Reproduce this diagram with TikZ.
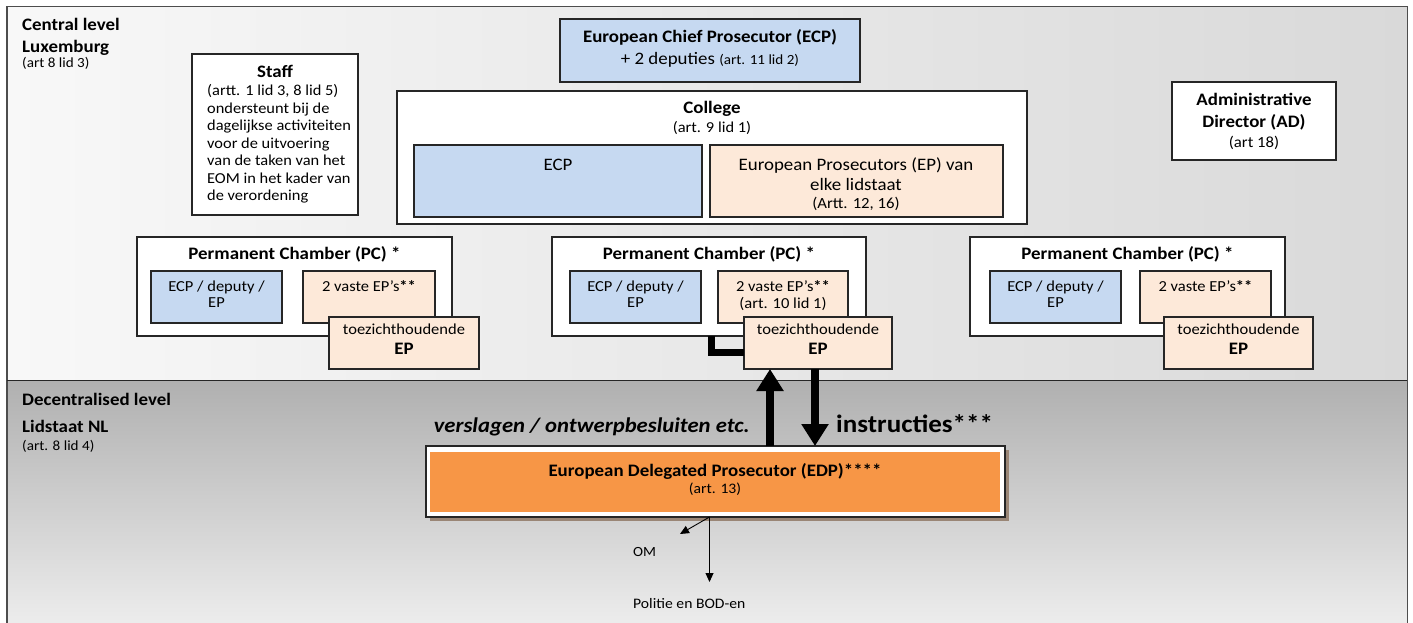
\documentclass[tikz,border=0pt]{standalone}
\usepackage{fontspec}
\setmainfont{Carlito}[FakeStretch=1.08]
\usetikzlibrary{arrows.meta}
\definecolor{ecpblue}{HTML}{C6D9F1}
\definecolor{peach}{HTML}{FDE9D9}
\definecolor{edporange}{HTML}{F79646}
\definecolor{framegray}{HTML}{4D4D4D}
\definecolor{cenL}{HTML}{F8F8F8}
\definecolor{cenR}{HTML}{D9D9D9}
\definecolor{decT}{HTML}{B0B0B0}
\definecolor{decB}{HTML}{EEEEEE}
\definecolor{edpshadow}{HTML}{9A8676}
\newcommand{\fz}[1]{\fontsize{#1}{#1}\selectfont}
\newcommand{\mybox}[6]{\node[#2, minimum width={#5-#3}, minimum height={#6-#4}] (#1) at (#3,#4) {};}
\tikzset{
 box/.style={draw=black!85, line width=1.1pt, fill=white, anchor=north west, inner sep=0pt, outer sep=0pt},
 bbox/.style={box, fill=ecpblue},
 pbox/.style={box, fill=peach},
 lbl/.style={inner sep=0pt, anchor=base},
 lbll/.style={inner sep=0pt, anchor=base west},
 ttl/.style={font=\fz{17.5}\bfseries},
 big/.style={font=\fz{17.5}},
 bod/.style={font=\fz{15.2}},
 pcf/.style={font=\fz{15.3}},
 sml/.style={font=\fz{14}},
 bigarrow/.style={line width=8pt, -{Triangle[width=26pt,length=22pt]}},
 elbow/.style={line width=7pt, line join=miter},
 thinarrow/.style={line width=0.9pt, -{Triangle[width=8pt,length=9pt]}},
}
\begin{document}
\begin{tikzpicture}[x=1pt,y=-1pt]
\useasboundingbox (0,0) rectangle (1413,623);
\fill[white] (0,0) rectangle (1413,623);
\shade[left color=cenL, right color=cenR] (7,7) rectangle (1407,380);
\shade[top color=decT, bottom color=decB] (7,380) rectangle (1407,630);
\draw[framegray, line width=1.5pt] (7,630) -- (7,6.5) -- (1407.5,6.5) -- (1407.5,630);
\draw[black!85, line width=1.5pt] (7,380.5) -- (1407,380.5);

% central level labels
\node[lbll, ttl] (cl1) at (22,31) {Central level};
\node[lbll, ttl] (cl2) at (22,53) {Luxemburg};
\node[lbll, sml] (cl3) at (22,68) {(art 8 lid 3)};

% Staff
\mybox{staff}{box}{192}{54}{358}{215}
\node[lbl, ttl] (stT) at (275,78) {Staff};
\foreach \t [count=\i] in {{(artt. 1 lid 3, 8 lid 5)},{ondersteunt bij de},{dagelijkse activiteiten},{voor de uitvoering},{van de taken van het},{EOM in het kader van},{de verordening}}
  \node[lbll, bod] (s\i) at (207,{96+17.4*(\i-1)}) {\t};

% ECP
\mybox{ecp}{bbox}{560}{19}{860}{82}
\node[lbl, ttl] (ecp1) at (710,43) {European Chief Prosecutor (ECP)};
\node[lbl, big] (ecp2) at (710,65) {+ 2 deputies {\fz{14}(art. 11 lid 2)}};

% College
\mybox{college}{box}{397}{91}{1027}{224}
\node[lbl, ttl] (colT) at (712,114) {College};
\node[lbl, bod] (colS) at (712,132) {(art. 9 lid 1)};
\mybox{ecpi}{bbox}{414}{145}{702}{217}
\node[lbl, big] (ecpit) at (558,170) {ECP};
\mybox{epi}{pbox}{710}{145}{1003}{217}
\node[lbl, big] (ep1) at (856,170) {European Prosecutors (EP) van};
\node[lbl, big] (ep2) at (856,190) {elke lidstaat};
\node[lbl, font=\fz{15.5}] (ep3) at (856,208) {(Artt. 12, 16)};

% Administrative Director
\mybox{ad}{box}{1172}{82}{1336}{160}
\node[lbl, ttl] (ad1) at (1254,106) {Administrative};
\node[lbl, ttl] (ad2) at (1254,128) {Director (AD)};
\node[lbl, font=\fz{15.5}] (ad3) at (1254,147) {(art 18)};

% Permanent Chamber 1
\mybox{pc1}{box}{137}{237}{452}{336}
\node[lbl, ttl] (pc1t) at (294.5,259) {Permanent Chamber (PC) *};
\mybox{pc1b}{bbox}{151}{271}{282}{323}
\node[lbl, pcf] (pc1b1) at (216.5,291) {ECP / deputy /};
\node[lbl, pcf] (pc1b2) at (216.5,307) {EP};
\mybox{pc1p}{pbox}{303}{271}{435}{323}
\node[lbl, pcf] (pc1p1) at (369,291) {2 vaste EP’s\textbf{**}};
\mybox{tz1}{pbox}{329}{317}{479}{369}
\node[lbl, pcf] (tz1a) at (404,334) {toezichthoudende};
\node[lbl, ttl] (tz1b) at (404,354) {EP};

% Permanent Chamber 2
\mybox{pc2}{box}{552}{237}{866}{336}
\node[lbl, ttl] (pc2t) at (709,259) {Permanent Chamber (PC) *};
\mybox{pc2b}{bbox}{570}{271}{701}{323}
\node[lbl, pcf] (pc2b1) at (635.5,291) {ECP / deputy /};
\node[lbl, pcf] (pc2b2) at (635.5,307) {EP};
\mybox{pc2p}{pbox}{718}{271}{848}{323}
\node[lbl, pcf] (pc2p1) at (783,291) {2 vaste EP’s\textbf{**}};
\node[lbl, pcf] (pc2p2) at (783,308) {(art. 10 lid 1)};
\mybox{tz2}{pbox}{744}{317}{892}{369}
\node[lbl, pcf] (tz2a) at (818,334) {toezichthoudende};
\node[lbl, ttl] (tz2b) at (818,354) {EP};

% Permanent Chamber 3
\mybox{pc3}{box}{970}{237}{1285}{336}
\node[lbl, ttl] (pc3t) at (1127.5,259) {Permanent Chamber (PC) *};
\mybox{pc3b}{bbox}{990}{271}{1121}{323}
\node[lbl, pcf] (pc3b1) at (1055.5,291) {ECP / deputy /};
\node[lbl, pcf] (pc3b2) at (1055.5,307) {EP};
\mybox{pc3p}{pbox}{1140}{271}{1271}{323}
\node[lbl, pcf] (pc3p1) at (1205.5,291) {2 vaste EP’s\textbf{**}};
\mybox{tz3}{pbox}{1164}{317}{1313}{369}
\node[lbl, pcf] (tz3a) at (1238.5,334) {toezichthoudende};
\node[lbl, ttl] (tz3b) at (1238.5,354) {EP};

% elbow connector PC2 -> toezichthoudende EP
\draw[elbow] ([xshift=159pt]pc2.south west) |- ([yshift=-9pt]tz2.west);

% decentralised labels
\node[lbll, ttl] (dl1) at (22,405) {Decentralised level};
\node[lbll, ttl] (dl2) at (22,432) {Lidstaat NL};
\node[lbll, sml] (dl3) at (22,450) {(art. 8 lid 4)};

% EDP
\fill[edpshadow] (430,450) rectangle (1009,521);
\mybox{edpf}{box}{426}{446}{1005}{517}
\node[anchor=north west, fill=edporange, inner sep=0pt, minimum width=570, minimum height=60] (edpo) at (430,452) {};
\node[lbl, ttl] (edp1) at (715,476) {European Delegated Prosecutor (EDP)****};
\node[lbl, font=\fz{14.5}] (edp2) at (715,493) {(art. 13)};

% big arrows
\draw[bigarrow] ([xshift=54.5pt]edpf.north) -- ([xshift=54.5pt]edpf.north |- tz2.south);
\draw[bigarrow] ([xshift=99.5pt]edpf.north |- tz2.south) -- ([xshift=99.5pt]edpf.north);
\node[inner sep=0pt, anchor=base east, font=\fz{21}\bfseries\itshape] (versl) at (750,432) {verslagen / ontwerpbesluiten etc.};
\node[inner sep=0pt, anchor=base west, font=\fz{25}\bfseries] (instr) at (836,432) {instructies***};

% small arrows
\node[lbll, font=\fz{14}] (om) at (633,556) {OM};
\node[lbll, font=\fz{14.5}] (pol) at (633,608) {Politie en BOD-en};
\coordinate (src) at ([xshift=-6pt]edpf.south);
\coordinate (omtip) at (680,534);
\coordinate (poltip) at (709.5,582);
\draw[thinarrow] (src) -- (omtip);
\draw[thinarrow] (src) -- (poltip);
\end{tikzpicture}
\end{document}
